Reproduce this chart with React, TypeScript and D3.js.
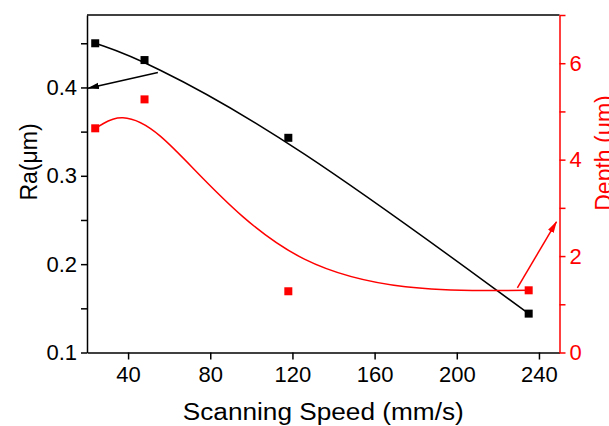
import * as d3 from "d3";
import { useEffect, useRef } from "react";

// scanning speed (mm/s)
const speed = [24, 48, 118, 235];
// surface roughness Ra (um), left axis
const ra = [0.45, 0.431, 0.343, 0.144];
// depth (um), right axis
const depth = [4.65, 5.25, 1.27, 1.29];

const xTicks = [40, 80, 120, 160, 200, 240];
const raTicks = [0.1, 0.15, 0.2, 0.25, 0.3, 0.35, 0.4, 0.45];
const raLabels = [0.1, 0.2, 0.3, 0.4];
const depthTicks = [0, 1, 2, 3, 4, 5, 6, 7];
const depthLabels = [0, 2, 4, 6];

// annotation arrows in data units: x1, y1 -> x2, y2 (head at the end)
const raArrow = [54.5, 0.417, 20.5, 0.399];
const depthArrow = [229.5, 1.34, 248.5, 2.71];

const W = 609;
const H = 426;
const margin = { top: 15, right: 49.5, bottom: 73.5, left: 87 };
const FONT = "'Liberation Sans', Arial, sans-serif";

const App = () => {
  const ref = useRef<SVGSVGElement | null>(null);

  useEffect(() => {
    const svg = d3.select(ref.current);
    svg.selectAll("*").remove();

    const x = d3.scaleLinear().domain([20, 250]).range([margin.left, W - margin.right]);
    const yRa = d3.scaleLinear().domain([0.1, 0.482]).range([H - margin.bottom, margin.top]);
    const yDepth = d3.scaleLinear().domain([0, 7]).range([H - margin.bottom, margin.top]);

    svg.append("rect").attr("width", W).attr("height", H).attr("fill", "#fff");

    const defs = svg.append("defs");
    [["headBlack", "#000"], ["headRed", "#f00"]].forEach(([id, c]) => {
      defs.append("marker")
        .attr("id", id)
        .attr("markerUnits", "userSpaceOnUse")
        .attr("viewBox", "0 -4 12 8")
        .attr("refX", 11)
        .attr("refY", 0)
        .attr("markerWidth", 12)
        .attr("markerHeight", 8)
        .attr("orient", "auto")
        .append("path")
        .attr("d", "M0,-3.2L12,0L0,3.2Z")
        .attr("fill", c);
    });

    // top frame
    svg.append("line")
      .attr("x1", margin.left).attr("x2", W - margin.right)
      .attr("y1", margin.top).attr("y2", margin.top)
      .attr("stroke", "#000").attr("stroke-width", 1.5);

    // bottom axis
    const gx = svg.append("g")
      .attr("transform", `translate(0,${H - margin.bottom})`)
      .call(d3.axisBottom(x).tickValues(xTicks).tickSize(7).tickPadding(7).tickSizeOuter(0).tickFormat(d3.format("d")));
    gx.select(".domain").attr("stroke-width", 1.5);
    gx.selectAll(".tick line").attr("stroke-width", 1.5);
    gx.selectAll("text").attr("font-size", 22).attr("font-family", FONT);

    // left axis
    const gl = svg.append("g")
      .attr("transform", `translate(${margin.left},0)`)
      .call(d3.axisLeft(yRa).tickValues(raTicks).tickSize(6).tickPadding(4).tickSizeOuter(0)
        .tickFormat((d) => (raLabels.some((v) => Math.abs(v - +d) < 1e-9) ? d3.format(".1f")(+d) : "")));
    gl.select(".domain").attr("stroke-width", 1.5);
    gl.selectAll(".tick line").attr("stroke-width", 1.5);
    gl.selectAll("text").attr("font-size", 22).attr("font-family", FONT);

    // right axis
    const gr = svg.append("g")
      .attr("transform", `translate(${W - margin.right},0)`)
      .call(d3.axisRight(yDepth).tickValues(depthTicks).tickSize(6).tickPadding(4).tickSizeOuter(0)
        .tickFormat((d) => (depthLabels.includes(+d) ? String(d) : "")));
    gr.select(".domain").attr("stroke", "#f00").attr("stroke-width", 1.5);
    gr.selectAll(".tick line").attr("stroke", "#f00").attr("stroke-width", 1.5);
    gr.selectAll("text").attr("fill", "#f00").attr("font-size", 22).attr("font-family", FONT);

    // curves (B-spline through the points as control points)
    const raPts = speed.map((s, i) => [x(s), yRa(ra[i])] as [number, number]);
    const depthPts = speed.map((s, i) => [x(s), yDepth(depth[i])] as [number, number]);
    const line = d3.line().curve(d3.curveBasis);

    svg.append("path").attr("d", line(raPts)).attr("fill", "none").attr("stroke", "#000").attr("stroke-width", 1.5);
    svg.append("path").attr("d", line(depthPts)).attr("fill", "none").attr("stroke", "#f00").attr("stroke-width", 1.5);

    const sq = 8;
    svg.selectAll(".raPt").data(raPts).enter().append("rect")
      .attr("x", (d) => d[0] - sq / 2).attr("y", (d) => d[1] - sq / 2)
      .attr("width", sq).attr("height", sq).attr("fill", "#000");
    svg.selectAll(".dPt").data(depthPts).enter().append("rect")
      .attr("x", (d) => d[0] - sq / 2).attr("y", (d) => d[1] - sq / 2)
      .attr("width", sq).attr("height", sq).attr("fill", "#f00");

    // arrows
    svg.append("line")
      .attr("x1", x(raArrow[0])).attr("y1", yRa(raArrow[1]))
      .attr("x2", x(raArrow[2])).attr("y2", yRa(raArrow[3]))
      .attr("stroke", "#000").attr("stroke-width", 1.5).attr("marker-end", "url(#headBlack)");
    svg.append("line")
      .attr("x1", x(depthArrow[0])).attr("y1", yDepth(depthArrow[1]))
      .attr("x2", x(depthArrow[2])).attr("y2", yDepth(depthArrow[3]))
      .attr("stroke", "#f00").attr("stroke-width", 1.5).attr("marker-end", "url(#headRed)");

    // axis titles
    svg.append("text")
      .attr("x", (margin.left + W - margin.right) / 2).attr("y", 420)
      .attr("text-anchor", "middle").attr("font-size", 23).attr("font-family", FONT)
      .attr("textLength", 281).attr("lengthAdjust", "spacingAndGlyphs")
      .text("Scanning Speed (mm/s)");
    svg.append("text")
      .attr("transform", "translate(37,162) rotate(-90)")
      .attr("text-anchor", "middle").attr("font-size", 23).attr("font-family", FONT)
      .text("Ra(μm)");
    svg.append("text")
      .attr("transform", "translate(612,153) rotate(-90)")
      .attr("text-anchor", "middle").attr("font-size", 23).attr("font-family", FONT)
      .attr("fill", "#f00")
      .text("Depth (μm)");
  }, []);

  return (
    <svg ref={ref} width={W} height={H} style={{ position: "absolute", left: 0, top: 0, display: "block" }} />
  );
};

export default App;
